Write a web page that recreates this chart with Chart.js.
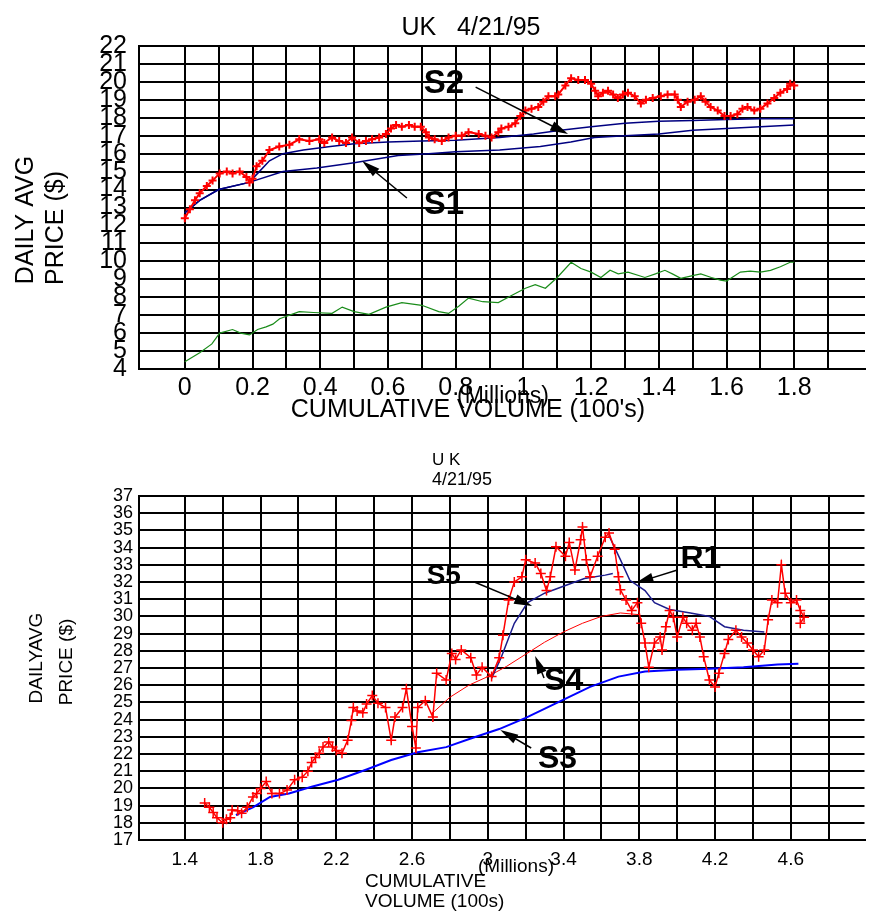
<!DOCTYPE html>
<html>
<head>
<meta charset="utf-8">
<title>UK 4/21/95</title>
<script src="https://cdn.jsdelivr.net/npm/chart.js@4/dist/chart.umd.min.js"></script>
<style>
  body { margin: 0; background: #fff; }
  canvas { position: absolute; left: 0; }
  #top-chart { top: 0; }
  #bottom-chart { top: 440px; }
</style>
</head>
<body>
<canvas id="top-chart" width="871" height="440"></canvas>
<canvas id="bottom-chart" width="871" height="472"></canvas>
<script>
'use strict';

// ---- top chart: [cumulative volume (millions), price] ----
const topPrice = [[0,12.4],[0.015,12.9],[0.03,13.4],[0.044,13.8],[0.065,14.2],[0.082,14.5],[0.103,14.9],[0.124,15.0],[0.141,14.9],[0.162,15.0],[0.182,14.7],[0.191,14.4],[0.2,14.6],[0.212,15.3],[0.229,15.6],[0.25,16.2],[0.279,16.4],[0.309,16.5],[0.338,16.8],[0.368,16.7],[0.397,16.8],[0.412,16.6],[0.435,16.9],[0.456,16.7],[0.476,16.6],[0.494,16.9],[0.515,16.6],[0.535,16.7],[0.553,16.8],[0.574,16.9],[0.594,17.1],[0.609,17.4],[0.624,17.6],[0.641,17.5],[0.662,17.6],[0.679,17.5],[0.697,17.5],[0.712,17.2],[0.721,16.9],[0.738,16.8],[0.759,16.7],[0.779,16.9],[0.8,17.0],[0.818,17.0],[0.838,17.2],[0.868,17.1],[0.888,17.0],[0.906,16.9],[0.926,17.2],[0.935,17.4],[0.956,17.5],[0.976,17.7],[0.991,18.1],[1.006,18.4],[1.024,18.5],[1.044,18.6],[1.059,18.9],[1.074,19.2],[1.094,19.2],[1.103,19.3],[1.124,19.8],[1.141,20.2],[1.162,20.1],[1.182,20.1],[1.2,19.9],[1.212,19.5],[1.221,19.2],[1.235,19.4],[1.25,19.5],[1.265,19.3],[1.279,19.1],[1.294,19.3],[1.309,19.4],[1.329,19.2],[1.347,18.8],[1.362,19.0],[1.382,19.1],[1.406,19.2],[1.426,19.3],[1.447,19.3],[1.456,19.0],[1.465,18.6],[1.485,18.9],[1.506,19.0],[1.524,19.2],[1.538,18.9],[1.553,18.6],[1.574,18.4],[1.594,18.1],[1.612,18.1],[1.632,18.2],[1.647,18.5],[1.662,18.6],[1.682,18.4],[1.7,18.5],[1.721,18.8],[1.741,19.1],[1.759,19.4],[1.779,19.6],[1.788,19.9],[1.8,19.8]];
const topS2 = [[0,12.7],[0.044,13.4],[0.1,14.0],[0.19,14.4],[0.22,15.0],[0.25,15.6],[0.29,16.0],[0.35,16.2],[0.43,16.4],[0.5,16.55],[0.6,16.65],[0.7,16.7],[0.8,16.75],[0.93,16.9],[1.03,17.1],[1.11,17.3],[1.2,17.5],[1.3,17.7],[1.4,17.8],[1.5,17.85],[1.6,17.9],[1.7,17.95],[1.8,17.95]];
const topS1 = [[0,12.7],[0.044,13.4],[0.1,14.0],[0.19,14.4],[0.29,15.0],[0.39,15.2],[0.5,15.5],[0.63,15.9],[0.72,16.0],[0.8,16.1],[0.93,16.2],[1.05,16.4],[1.14,16.65],[1.21,16.9],[1.3,17.0],[1.4,17.1],[1.5,17.3],[1.6,17.4],[1.7,17.5],[1.8,17.6]];
const topGreen = [[0,4.4],[0.044,4.9],[0.08,5.4],[0.103,6.0],[0.141,6.2],[0.165,6.0],[0.191,5.9],[0.215,6.2],[0.24,6.35],[0.26,6.5],[0.28,6.8],[0.338,7.2],[0.38,7.15],[0.435,7.1],[0.465,7.45],[0.5,7.2],[0.544,7.05],[0.594,7.45],[0.641,7.7],[0.7,7.55],[0.75,7.2],[0.779,7.1],[0.809,7.5],[0.838,7.95],[0.88,7.75],[0.926,7.7],[0.965,8.1],[1.006,8.5],[1.035,8.7],[1.065,8.5],[1.1,9.1],[1.141,9.95],[1.17,9.6],[1.2,9.4],[1.229,9.1],[1.256,9.5],[1.28,9.3],[1.309,9.4],[1.359,9.1],[1.39,9.3],[1.418,9.5],[1.44,9.3],[1.465,9.05],[1.5,9.2],[1.524,9.3],[1.555,9.1],[1.582,8.95],[1.6,8.9],[1.641,9.4],[1.67,9.45],[1.7,9.4],[1.73,9.5],[1.759,9.7],[1.788,9.95],[1.8,9.95]];
const topYTicks = [4,5,6,7,8,9,10,11,12,13,14,15,16,17,18,19,20,21,22];
const topXGrid = [0,0.1,0.2,0.3,0.4,0.5,0.6,0.7,0.8,0.9,1.0,1.1,1.2,1.3,1.4,1.5,1.6,1.7,1.8,1.9];
const topXLabels = ['0','0.2','0.4','0.6','0.8','1','1.2','1.4','1.6','1.8'];

// ---- bottom chart ----
const bottomPrice = [[1.505,19.15],[1.53,18.9],[1.55,18.6],[1.57,18.3],[1.6,18.0],[1.62,18.2],[1.64,18.3],[1.65,18.75],[1.68,18.7],[1.7,18.55],[1.73,18.9],[1.76,19.5],[1.78,19.7],[1.8,20.0],[1.83,20.4],[1.86,19.7],[1.9,19.7],[1.94,19.9],[1.98,20.5],[2.02,20.65],[2.05,21.0],[2.07,21.5],[2.09,21.8],[2.11,22.05],[2.13,22.4],[2.16,22.7],[2.18,22.4],[2.2,22.2],[2.23,22.05],[2.26,22.8],[2.28,23.95],[2.29,24.7],[2.31,24.5],[2.34,24.4],[2.36,24.9],[2.39,25.4],[2.42,24.95],[2.46,24.7],[2.49,22.8],[2.51,24.15],[2.55,24.7],[2.57,25.8],[2.6,23.6],[2.62,22.35],[2.63,24.7],[2.67,25.1],[2.71,24.15],[2.73,26.7],[2.78,26.3],[2.81,27.85],[2.83,27.5],[2.86,28.05],[2.91,27.6],[2.94,26.6],[2.97,27.05],[3.02,26.5],[3.06,27.6],[3.08,28.9],[3.11,30.95],[3.14,32.0],[3.18,32.3],[3.2,33.3],[3.25,33.1],[3.28,32.5],[3.31,31.5],[3.33,32.3],[3.36,34.05],[3.41,33.5],[3.43,34.3],[3.46,32.7],[3.49,34.45],[3.5,35.2],[3.52,33.3],[3.54,32.3],[3.58,33.5],[3.62,34.6],[3.64,34.85],[3.67,33.9],[3.69,32.3],[3.7,31.55],[3.73,30.95],[3.76,30.35],[3.79,30.8],[3.81,29.6],[3.83,28.45],[3.85,27.05],[3.88,28.45],[3.91,28.8],[3.92,28.05],[3.94,29.4],[3.96,30.35],[3.98,29.95],[4.0,28.8],[4.03,29.95],[4.05,29.6],[4.08,29.2],[4.1,29.6],[4.12,28.8],[4.14,27.65],[4.17,26.3],[4.2,25.9],[4.22,26.7],[4.25,27.85],[4.27,28.65],[4.31,29.2],[4.34,28.8],[4.37,28.45],[4.4,28.05],[4.43,27.65],[4.46,28.05],[4.48,29.8],[4.5,30.95],[4.53,30.8],[4.55,33.0],[4.57,31.35],[4.6,30.8],[4.63,30.95],[4.65,30.35],[4.67,29.95],[4.65,29.6]];
const bottomS3 = [[1.67,18.45],[1.76,18.9],[1.85,19.5],[1.95,19.7],[2.07,20.1],[2.21,20.5],[2.36,21.1],[2.49,21.65],[2.63,22.1],[2.78,22.4],[2.91,22.9],[3.06,23.45],[3.2,24.1],[3.37,25.0],[3.54,25.9],[3.69,26.5],[3.83,26.8],[4.0,26.9],[4.17,26.95],[4.35,27.05],[4.53,27.2],[4.64,27.25]];
const bottomS4 = [[2.7,24.3],[2.8,25.3],[2.9,26.0],[3.0,26.5],[3.1,27.1],[3.2,27.8],[3.3,28.5],[3.4,29.1],[3.5,29.6],[3.6,30.0],[3.7,30.2],[3.8,30.1]];
const bottomS5 = [[3.02,26.4],[3.07,27.6],[3.14,29.6],[3.21,30.8],[3.3,31.35],[3.41,31.8],[3.51,32.2],[3.62,32.4],[3.66,32.5]];
const bottomR1 = [[3.64,34.7],[3.7,33.3],[3.75,32.1],[3.83,31.5],[3.88,30.8],[3.96,30.4],[4.07,30.2],[4.17,30.0],[4.25,29.4],[4.35,29.2],[4.46,29.1]];
const bottomYTicks = [17,18,19,20,21,22,23,24,25,26,27,28,29,30,31,32,33,34,35,36,37];
const bottomXGrid = [1.4,1.6,1.8,2.0,2.2,2.4,2.6,2.8,3.0,3.2,3.4,3.6,3.8,4.0,4.2,4.4,4.6,4.8];
const bottomXLabels = ['1.4','1.8','2.2','2.6','3','3.4','3.8','4.2','4.6'];

const FONT = 'Liberation Sans, Arial, Helvetica, sans-serif';

function pts(list) {
  return list.map(p => ({x: p[0], y: p[1]}));
}

function drawArrow(ctx, x1, y1, x2, y2) {
  const ang = Math.atan2(y2 - y1, x2 - x1);
  const len = 18, half = 5;
  const c = Math.cos(ang), s = Math.sin(ang);
  ctx.strokeStyle = '#000';
  ctx.lineWidth = 1.5;
  ctx.beginPath();
  ctx.moveTo(x1, y1);
  ctx.lineTo(x2 - c * len * 0.5, y2 - s * len * 0.5);
  ctx.stroke();
  ctx.beginPath();
  ctx.moveTo(x2, y2);
  ctx.lineTo(x2 - len * c + half * s, y2 - len * s - half * c);
  ctx.lineTo(x2 - len * c - half * s, y2 - len * s + half * c);
  ctx.closePath();
  ctx.fill();
}

// texts in canvas pixels, notes in data values
function makeOverlay(texts, notes) {
  return {
    id: 'overlay',
    afterDraw(chart) {
      const ctx = chart.ctx;
      const xs = chart.scales.x, ys = chart.scales.y;
      ctx.save();
      ctx.fillStyle = '#000';
      texts.forEach(t => {
        ctx.save();
        ctx.font = t.font;
        ctx.textAlign = t.align || 'left';
        ctx.textBaseline = 'alphabetic';
        ctx.translate(t.x, t.y);
        if (t.rotate) ctx.rotate(t.rotate);
        ctx.fillText(t.text, 0, 0);
        ctx.restore();
      });
      notes.forEach(n => {
        ctx.font = n.font;
        ctx.textAlign = 'left';
        ctx.fillText(n.label, xs.getPixelForValue(n.at[0]), ys.getPixelForValue(n.at[1]));
        drawArrow(ctx,
          xs.getPixelForValue(n.from[0]), ys.getPixelForValue(n.from[1]),
          xs.getPixelForValue(n.to[0]), ys.getPixelForValue(n.to[1]));
      });
      ctx.restore();
    }
  };
}

function labelFor(labels, v) {
  return labels.find(s => Math.abs(parseFloat(s) - v) < 1e-6) || '';
}

function gridScale(extra) {
  return Object.assign({
    type: 'linear',
    grid: { color: '#000', lineWidth: 2, drawTicks: false },
    border: { display: true, color: '#000', width: 2 },
  }, extra);
}

const topTexts = [
  { text: 'UK   4/21/95', x: 471, y: 35, font: `25px ${FONT}`, align: 'center' },
  { text: 'DAILY AVG', x: 33, y: 220, font: `25px ${FONT}`, align: 'center', rotate: -Math.PI / 2 },
  { text: 'PRICE ($)', x: 63, y: 228, font: `25px ${FONT}`, align: 'center', rotate: -Math.PI / 2 },
  { text: 'CUMULATIVE VOLUME (100\'s)', x: 468, y: 417, font: `25px ${FONT}`, align: 'center' },
  { text: '(Millions)', x: 503, y: 403, font: `23px ${FONT}`, align: 'center' },
];
const topNotes = [
  { label: 'S2', at: [0.706, 19.38], from: [0.859, 19.71], to: [1.132, 17.09], font: `bold 33px ${FONT}` },
  { label: 'S1', at: [0.706, 12.64], from: [0.656, 13.53], to: [0.524, 15.59], font: `bold 33px ${FONT}` },
];

new Chart(document.getElementById('top-chart').getContext('2d'), {
  type: 'line',
  data: {
    datasets: [
      { label: 'price', data: pts(topPrice), borderColor: '#ff0000', borderWidth: 2,
        pointStyle: 'cross', pointRadius: 4, pointBorderWidth: 2, pointBorderColor: '#ff0000' },
      { label: 'S2', data: pts(topS2), borderColor: '#000080', borderWidth: 1.5, pointRadius: 0 },
      { label: 'S1', data: pts(topS1), borderColor: '#000080', borderWidth: 1.5, pointRadius: 0 },
      { label: 'lower', data: pts(topGreen), borderColor: '#1a8c1a', borderWidth: 1.2, pointRadius: 0 },
    ]
  },
  options: {
    responsive: false,
    animation: false,
    layout: { padding: { top: 46, left: 0, right: 0, bottom: 0 } },
    elements: { line: { tension: 0 } },
    plugins: { legend: { display: false }, tooltip: { enabled: false } },
    scales: {
      x: gridScale({
        min: -0.1353, max: 2.009,
        afterBuildTicks: s => { s.ticks = topXGrid.map(v => ({ value: v })); },
        afterFit: s => { s.height = 71; },
        ticks: { autoSkip: false, maxRotation: 0, padding: 4, color: '#000',
          font: { family: FONT, size: 25 }, callback: v => labelFor(topXLabels, v) }
      }),
      y: gridScale({
        min: 4, max: 22,
        afterBuildTicks: s => { s.ticks = topYTicks.map(v => ({ value: v })); },
        afterFit: s => { s.width = 139; },
        ticks: { autoSkip: false, padding: 12, color: '#000',
          font: { family: FONT, size: 25 }, callback: v => String(v) }
      })
    }
  },
  plugins: [makeOverlay(topTexts, topNotes)]
});

const bottomTexts = [
  { text: 'U K', x: 432, y: 25, font: `17px ${FONT}` },
  { text: '4/21/95', x: 432, y: 45, font: `18px ${FONT}` },
  { text: 'DAILYAVG', x: 42, y: 218, font: `19px ${FONT}`, align: 'center', rotate: -Math.PI / 2 },
  { text: 'PRICE ($)', x: 72, y: 222, font: `19px ${FONT}`, align: 'center', rotate: -Math.PI / 2 },
  { text: 'CUMULATIVE', x: 365, y: 447, font: `19px ${FONT}` },
  { text: 'VOLUME (100s)', x: 365, y: 467, font: `19px ${FONT}` },
  { text: '(Millions)', x: 478, y: 432, font: `19px ${FONT}` },
];
const bottomNotes = [
  { label: 'S5', at: [2.677, 31.88], from: [2.929, 32.0], to: [3.234, 30.6], font: `bold 28px ${FONT}` },
  { label: 'R1', at: [4.017, 32.81], from: [4.001, 32.7], to: [3.78, 31.94], font: `bold 32px ${FONT}` },
  { label: 'S4', at: [3.297, 25.72], from: [3.297, 26.42], to: [3.25, 27.7], font: `bold 32px ${FONT}` },
  { label: 'S3', at: [3.265, 21.19], from: [3.229, 22.35], to: [3.066, 23.4], font: `bold 32px ${FONT}` },
];

new Chart(document.getElementById('bottom-chart').getContext('2d'), {
  type: 'line',
  data: {
    datasets: [
      { label: 'price', data: pts(bottomPrice), borderColor: '#ff0000', borderWidth: 1.5,
        pointStyle: 'cross', pointRadius: 5, pointBorderWidth: 1.5, pointBorderColor: '#ff0000' },
      { label: 'S5', data: pts(bottomS5), borderColor: '#1c1c8c', borderWidth: 1.5, pointRadius: 0 },
      { label: 'R1', data: pts(bottomR1), borderColor: '#1c1c8c', borderWidth: 1.5, pointRadius: 0 },
      { label: 'S4', data: pts(bottomS4), borderColor: '#ff0000', borderWidth: 1, pointRadius: 0 },
      { label: 'S3', data: pts(bottomS3), borderColor: '#0000ff', borderWidth: 2, pointRadius: 0 },
    ]
  },
  options: {
    responsive: false,
    animation: false,
    layout: { padding: { top: 56, left: 0, right: 0, bottom: 0 } },
    elements: { line: { tension: 0 } },
    plugins: { legend: { display: false }, tooltip: { enabled: false } },
    scales: {
      x: gridScale({
        min: 1.1583, max: 4.989,
        afterBuildTicks: s => { s.ticks = bottomXGrid.map(v => ({ value: v })); },
        afterFit: s => { s.height = 72; },
        ticks: { autoSkip: false, maxRotation: 0, padding: 8, color: '#000',
          font: { family: FONT, size: 19 }, callback: v => labelFor(bottomXLabels, v) }
      }),
      y: gridScale({
        min: 17, max: 37,
        afterBuildTicks: s => { s.ticks = bottomYTicks.map(v => ({ value: v })); },
        afterFit: s => { s.width = 139; },
        ticks: { autoSkip: false, padding: 6, color: '#000',
          font: { family: FONT, size: 18 }, callback: v => String(v) }
      })
    }
  },
  plugins: [makeOverlay(bottomTexts, bottomNotes)]
});
</script>
</body>
</html>
